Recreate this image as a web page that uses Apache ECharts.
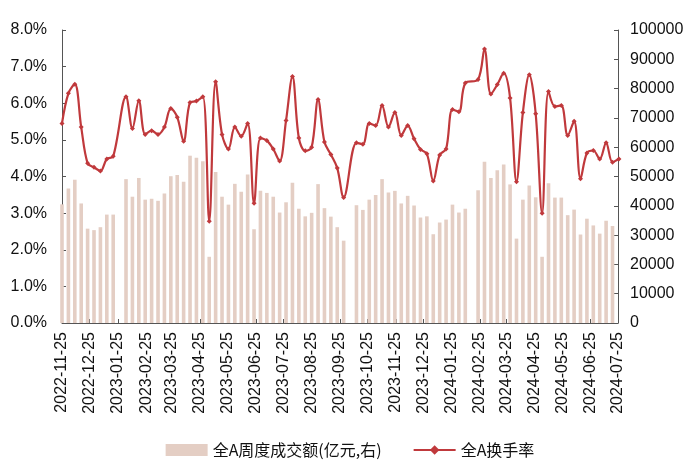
<!DOCTYPE html>
<html>
<head>
<meta charset="utf-8">
<script src="https://cdn.jsdelivr.net/npm/echarts@6/dist/echarts.min.js"></script>
<style>html,body{margin:0;padding:0;background:#fff}#c{width:700px;height:474px}</style>
</head>
<body>
<div id="c"></div>
<script>
const weeks = ['2022-11-25','2022-12-02','2022-12-09','2022-12-16','2022-12-23','2022-12-30','2023-01-06','2023-01-13','2023-01-20','2023-01-27',
'2023-02-03','2023-02-10','2023-02-17','2023-02-24','2023-03-03','2023-03-10','2023-03-17','2023-03-24','2023-03-31','2023-04-07',
'2023-04-14','2023-04-21','2023-04-28','2023-05-05','2023-05-12','2023-05-19','2023-05-26','2023-06-02','2023-06-09','2023-06-16',
'2023-06-23','2023-06-30','2023-07-07','2023-07-14','2023-07-21','2023-07-28','2023-08-04','2023-08-11','2023-08-18','2023-08-25',
'2023-09-01','2023-09-08','2023-09-15','2023-09-22','2023-09-29','2023-10-06','2023-10-13','2023-10-20','2023-10-27','2023-11-03',
'2023-11-10','2023-11-17','2023-11-24','2023-12-01','2023-12-08','2023-12-15','2023-12-22','2023-12-29','2024-01-05','2024-01-12',
'2024-01-19','2024-01-26','2024-02-02','2024-02-09','2024-02-16','2024-02-23','2024-03-01','2024-03-08','2024-03-15','2024-03-22',
'2024-03-29','2024-04-05','2024-04-12','2024-04-19','2024-04-26','2024-05-03','2024-05-10','2024-05-17','2024-05-24','2024-05-31',
'2024-06-07','2024-06-14','2024-06-21','2024-06-28','2024-07-05','2024-07-12','2024-07-19','2024-07-26'];

const turnover = [5.45,6.27,6.52,5.35,4.36,4.25,4.15,4.48,4.55,null,
6.18,5.31,6.07,5.15,5.25,5.15,5.35,5.86,5.62,4.96,
6.02,6.06,6.18,2.78,6.59,5.15,4.75,5.35,5.10,5.45,
3.27,5.05,4.98,4.75,4.42,5.53,6.73,5.05,4.70,4.80,
6.10,4.94,4.60,4.23,3.43,null,4.92,4.88,5.45,5.39,
5.94,5.35,5.75,5.12,5.39,5.03,4.74,4.62,3.88,4.59,
4.75,5.83,5.77,6.55,null,6.65,7.48,6.25,6.51,6.82,
6.14,3.86,5.75,6.78,5.71,3.00,6.32,5.91,5.94,5.12,
5.51,3.94,4.64,4.71,4.48,4.92,4.39,4.48];

const amount = [40500,45900,48900,40800,32200,31700,32700,37000,37000,null,
49100,43100,49500,42100,42400,41700,44200,50100,50500,48200,
57100,56400,55200,22600,51500,43100,40400,47500,44800,50700,
32000,45100,44400,43100,37700,41200,47900,39000,36400,37600,
47400,39200,36300,32700,28100,null,40200,38600,42100,43700,
49100,44500,45100,40800,43400,40100,36000,36400,30300,34300,
35300,40400,37700,39000,null,45300,55000,49500,52100,54100,
47300,28800,42100,46900,42900,22600,47700,42800,42800,36800,
38700,30200,35600,33300,30500,34900,33100,null];

const tickLabels = ['2022-11-25','2022-12-25','2023-01-25','2023-02-25','2023-03-25','2023-04-25','2023-05-25',
'2023-06-25','2023-07-25','2023-08-25','2023-09-25','2023-10-25','2023-11-25','2023-12-25','2024-01-25',
'2024-02-25','2024-03-25','2024-04-25','2024-05-25','2024-06-25','2024-07-25'];

const seriesNames = ['全A周度成交额(亿元,右)', '全A换手率'];

function parse(s){ const p = s.split('-').map(Number); return Date.UTC(p[0], p[1]-1, p[2]); }
function pad(n){ return (n < 10 ? '0' : '') + n; }
function fmt(v){ const d = new Date(v); return d.getUTCFullYear() + '-' + pad(d.getUTCMonth()+1) + '-' + pad(d.getUTCDate()); }

const tickVals = tickLabels.map(parse);
const barData = weeks.map((w, i) => [parse(w), amount[i]]);
const lineData = weeks.map((w, i) => [parse(w), turnover[i]]);

const labelFont = { fontFamily: 'Liberation Sans', fontSize: 16, color: '#111' };
const axisLineStyle = { color: '#555', width: 1 };

const chart = echarts.init(document.getElementById('c'), null, { renderer: 'canvas' });
chart.setOption({
  animation: false,
  backgroundColor: '#fff',
  grid: { left: 62, right: 82, top: 30, bottom: 151 },
  legend: {
    left: 'center', top: 437,
    itemWidth: 42, itemHeight: 12, itemGap: 31,
    textStyle: { fontFamily: 'Noto Sans CJK SC', fontSize: 16, color: '#111' },
    data: [
      { name: seriesNames[0], icon: 'rect' },
      { name: seriesNames[1] }
    ]
  },
  xAxis: {
    type: 'value',
    min: tickVals[0],
    max: tickVals[tickVals.length - 1],
    scale: true,
    axisLine: { show: true, onZero: false, lineStyle: axisLineStyle },
    axisTick: { show: true, inside: true, length: 4, customValues: tickVals, lineStyle: axisLineStyle },
    axisLabel: Object.assign({ customValues: tickVals, rotate: 90, margin: 9, hideOverlap: false, formatter: fmt }, labelFont),
    splitLine: { show: false }
  },
  yAxis: [
    {
      type: 'value', position: 'left', min: 0, max: 8, interval: 1,
      axisLine: { show: true, lineStyle: axisLineStyle },
      axisTick: { show: true, inside: true, length: 4, lineStyle: axisLineStyle },
      axisLabel: Object.assign({ margin: 15, formatter: v => v.toFixed(1) + '%' }, labelFont),
      splitLine: { show: false }
    },
    {
      type: 'value', position: 'right', min: 0, max: 100000, interval: 10000,
      axisLine: { show: true, lineStyle: axisLineStyle },
      axisTick: { show: true, inside: true, length: 4, lineStyle: axisLineStyle },
      axisLabel: Object.assign({ margin: 12, formatter: v => String(v) }, labelFont),
      splitLine: { show: false }
    }
  ],
  series: [
    {
      name: seriesNames[0], type: 'bar', yAxisIndex: 1,
      data: barData, barWidth: 3.6, clip: true,
      itemStyle: { color: '#e4cec4' }
    },
    {
      name: seriesNames[1], type: 'line', yAxisIndex: 0,
      data: lineData, connectNulls: true, smooth: 0.35, clip: false,
      symbol: 'diamond', symbolSize: 5, showSymbol: true,
      lineStyle: { color: '#c0393c', width: 2.2 },
      itemStyle: { color: '#c0393c' },
      z: 3
    }
  ]
});
</script>
</body>
</html>
